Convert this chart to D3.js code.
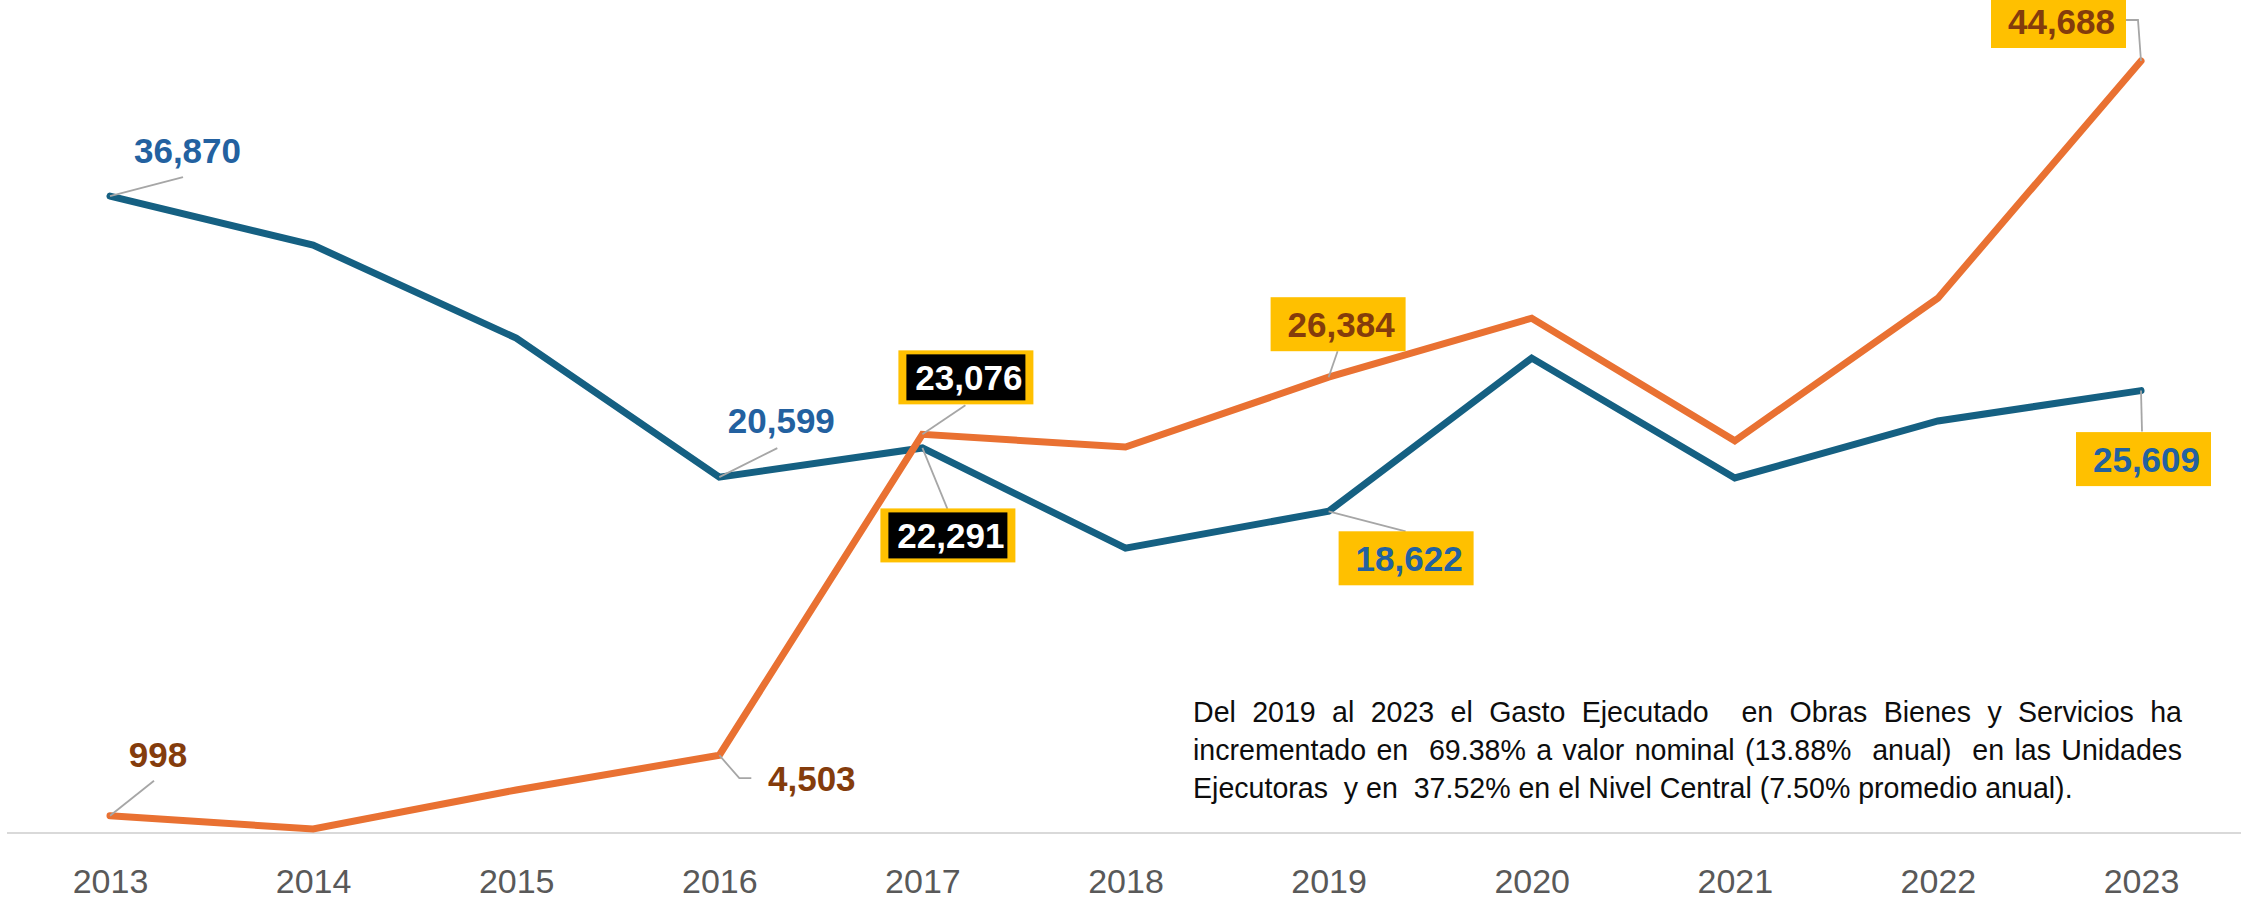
<!DOCTYPE html>
<html><head><meta charset="utf-8">
<script src="https://cdn.jsdelivr.net/npm/d3@7"></script>
<style>body{margin:0;background:#fff}svg{display:block}</style>
</head><body><svg id="c" width="2246" height="900"></svg>
<script>
// ---- data ----
const years = [2013, 2014, 2015, 2016, 2017, 2018, 2019, 2020, 2021, 2022, 2023];
const nivelCentral = [36870, 34030, 28650, 20599, 22291, 16490, 18622, 27490, 20550, 23850, 25609];
const unidadesEjecutoras = [998, 230, 2490, 4503, 23076, 22340, 26384, 29800, 22700, 30960, 44688];
const labeledYearsCentral = [2013, 2016, 2017, 2019, 2023];
const labeledYearsUnidades = [2013, 2016, 2017, 2019, 2023];
const noteLines = [
  "Del 2019 al 2023 el Gasto Ejecutado  en Obras Bienes y Servicios ha",
  "incrementado en  69.38% a valor nominal (13.88%  anual)  en las Unidades",
  "Ejecutoras  y en  37.52% en el Nivel Central (7.50% promedio anual)."
];

// ---- layout ----
const svg = d3.select("#c");
const x = d3.scalePoint().domain(years).range([110, 2141]);
const y = d3.scaleLinear().domain([0, 44688]).range([833, 61]);
const labelFont = "'Liberation Sans', Arial, sans-serif";

// axis line
svg.append("line").attr("x1", 7).attr("x2", 2241).attr("y1", y(0)).attr("y2", y(0))
  .attr("stroke", "#D9D9D9").attr("stroke-width", 2);

const ax = svg.append("g").attr("transform", `translate(0,${y(0)})`)
  .call(d3.axisBottom(x).tickSize(0).tickFormat(d => String(d)));
ax.select(".domain").remove();
ax.selectAll("text").attr("y", 60).attr("dy", 0)
  .attr("font-family", labelFont).attr("font-size", 34).attr("fill", "#595959");

// series
const series = [
  {key: "central", values: nivelCentral, color: "#156082", labeled: labeledYearsCentral},
  {key: "unidades", values: unidadesEjecutoras, color: "#E97132", labeled: labeledYearsUnidades}
];
const line = d3.line().x((d, i) => x(years[i])).y(d => y(d));
series.forEach(s => {
  svg.append("path").datum(s.values).attr("d", line).attr("fill", "none")
    .attr("stroke", s.color).attr("stroke-width", 7)
    .attr("stroke-linecap", "round").attr("stroke-linejoin", "miter");
});

// label placement (offsets relative to the data point)
const labelCfg = {
  central: {
    2013: {type: "plain", dx: 77.5, dy: -33, leader: [[73, -19]]},
    2016: {type: "plain", dx: 62, dy: -44, leader: [[58, -29]]},
    2017: {type: "black", dx: 25.5, dy: 87.5, leader: [[25, 61]]},
    2019: {type: "yellow", dx: 77.5, dy: 47, leader: [[77, 20]]},
    2023: {type: "yellow", dx: 2.5, dy: 68.5, leader: [[1, 41]]}
  },
  unidades: {
    2013: {type: "plain", dx: 48, dy: -49, leader: [[44, -35]]},
    2016: {type: "plain", dx: 92.5, dy: 36, leader: [[20, 23], [32, 23]]},
    2017: {type: "black", dx: 43.5, dy: -57, leader: [[43, -29]]},
    2019: {type: "yellow", dx: 9.5, dy: -53, leader: [[9, -26]]},
    2023: {type: "yellow", dx: -82.5, dy: -40, leader: [[-3, -41], [-15, -41]]}
  }
};
const textColor = {central: "#2361A0", unidades: "#843C0C"};
const fmt = d3.format(",");
const BW = 135, BH = 54;

const gLead = svg.append("g");
const gLab = svg.append("g");
series.forEach(s => {
  s.labeled.forEach(yr => {
    const i = years.indexOf(yr);
    const v = s.values[i];
    const px = x(yr), py = y(v);
    const c = labelCfg[s.key][yr];
    const pts = [[px, py]].concat(c.leader.map(p => [px + p[0], py + p[1]]));
    gLead.append("path").attr("d", d3.line()(pts)).attr("fill", "none")
      .attr("stroke", "#A6A6A6").attr("stroke-width", 1.8);
    const cx = px + c.dx, cy = py + c.dy;
    let fill = textColor[s.key], tx = cx, ty = cy;
    if (c.type === "yellow" || c.type === "black") {
      gLab.append("rect").attr("x", cx - BW / 2).attr("y", cy - BH / 2)
        .attr("width", BW).attr("height", BH).attr("fill", "#FFC000");
      if (c.type === "black") {
        gLab.append("rect").attr("x", cx - BW / 2 + 8).attr("y", cy - BH / 2 + 4)
          .attr("width", BW - 16).attr("height", BH - 8).attr("fill", "#000");
        fill = "#FFFFFF";
      }
      tx = cx + 3; ty = cy + 13;
    }
    gLab.append("text").attr("x", tx).attr("y", ty).attr("text-anchor", "middle")
      .attr("font-family", labelFont).attr("font-weight", "bold").attr("font-size", 35)
      .attr("fill", fill).text(fmt(v));
  });
});

// note text (justified first two lines)
const noteX0 = 1193, noteX1 = 2182, noteY0 = 722, noteLH = 38;
let noteSize = 26;
const probe = svg.append("text").attr("font-family", labelFont).attr("font-size", noteSize)
  .style("white-space", "pre").text(noteLines[2]);
const w3 = probe.node().getComputedTextLength();
noteSize = noteSize * 880 / w3;
probe.remove();
const gNote = svg.append("g").attr("font-family", labelFont).attr("font-size", noteSize).attr("fill", "#0D0D0D");
function measure(t) {
  const n = gNote.append("text").text(t);
  const w = n.node().getComputedTextLength();
  n.remove();
  return w;
}
noteLines.forEach((ln, li) => {
  const yy = noteY0 + li * noteLH;
  if (li < noteLines.length - 1) {
    const words = ln.split(" ");
    const widths = words.map(w => w ? measure(w) : 0);
    const total = d3.sum(widths);
    const gap = (noteX1 - noteX0 - total) / (words.length - 1);
    let cx = noteX0;
    words.forEach((w, k) => {
      if (w) gNote.append("text").attr("x", cx).attr("y", yy).text(w);
      cx += widths[k] + gap;
    });
  } else {
    gNote.append("text").attr("x", noteX0).attr("y", yy).style("white-space", "pre").text(ln);
  }
});
</script>
</body></html>
